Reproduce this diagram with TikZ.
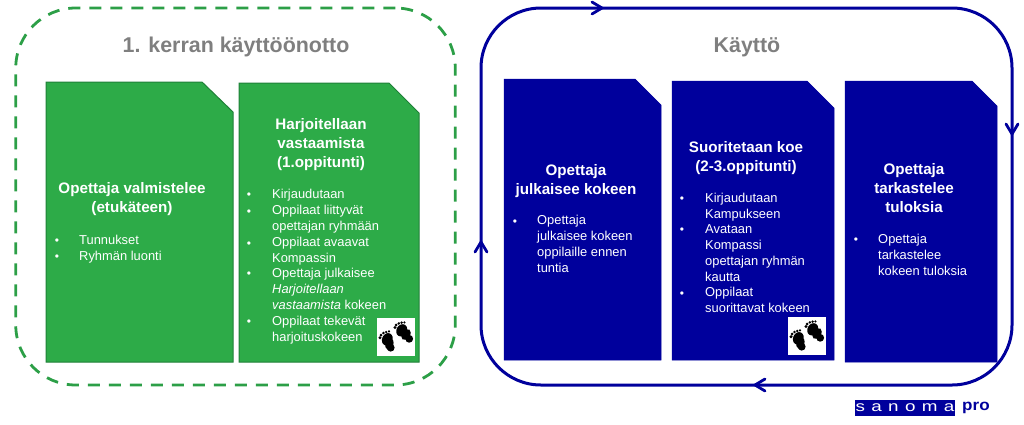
\documentclass[tikz,border=0pt]{standalone}
\usepackage{fontspec}
\setmainfont{Liberation Sans}
\usetikzlibrary{calc}
\definecolor{cgreen}{HTML}{2DAB48}
\definecolor{cgreenD}{HTML}{1F8038}
\definecolor{cdash}{HTML}{2C9F47}
\definecolor{cblue}{HTML}{00009C}
\definecolor{cgray}{HTML}{7F7F7F}
\tikzset{
  greencard/.style={fill=cgreen,draw=cgreenD,line width=1pt},
  bluecard/.style={fill=cblue,draw=cblue,line width=0.5pt},
  dashframe/.style={draw=cdash,line width=2.8pt,dash pattern=on 12pt off 9pt,rounded corners=60pt,inner sep=0pt},
  loopframe/.style={draw=cblue,line width=3pt,rounded corners=60pt,inner sep=0pt},
  chevron/.style={draw=cblue,line width=2.8pt,line cap=round,line join=miter},
  maintitle/.style={text=cgray,anchor=base,inner sep=0pt,font=\fontsize{21.4}{24}\selectfont\bfseries},
  head/.style={text=white,anchor=base,inner sep=0pt,align=center,font=\fontsize{15.2}{18.7}\selectfont\bfseries},
  item/.style={text=white,anchor=base west,inner sep=0pt,align=left,font=\fontsize{12.9}{15.7}\selectfont},
  bul/.style={text=white,anchor=base,inner sep=0pt,font=\fontsize{12}{15.7}\selectfont},
  whitesq/.style={fill=white,draw=none,minimum size=38pt,inner sep=0pt},
  pics/feet/.style={code={
    \fill[black,rotate around={-25:(-8.7,2.3)}] (-8.7,2.3) ellipse (5.2pt and 6.4pt);
    \fill[black,rotate around={-15:(-6.6,7)}] (-6.6,7) ellipse (4pt and 6pt);
    \fill[black] (-5.3,10.7) circle (3.9pt);
    \foreach \p/\r in {{-16,0.7}/1.7,{-15,-2}/1.5,{-12.6,-4}/1.4,{-9.8,-5}/1.3,{-7,-5.6}/1.2}
      \fill[black] (\p) circle (\r pt);
    \fill[black,rotate around={-30:(5.7,-6.7)}] (5.7,-6.7) ellipse (5.2pt and 6.4pt);
    \fill[black,rotate around={-35:(10,-2.5)}] (10,-2.5) ellipse (4pt and 6pt);
    \fill[black] (13.2,1.8) circle (3.9pt);
    \foreach \p/\r in {{-1,-9.5}/1.7,{0.2,-12}/1.5,{2.8,-13.6}/1.4,{5.6,-14.4}/1.3,{8.4,-14.6}/1.2}
      \fill[black] (\p) circle (\r pt);
  }}
}
\newcommand{\cardshape}[7]{\path[#7] (#1,#2) -- (#5,#2) -- (#3,#6) -- (#3,#4) -- (#1,#4) -- cycle;}
\begin{document}
\begin{tikzpicture}[x=1pt,y=-1pt]
\useasboundingbox (0,0) rectangle (1024,424);
% frames
\node[dashframe,minimum width=439.5pt,minimum height=377pt] (greenframe) at (235.5,196.5) {};
\node[loopframe,minimum width=531pt,minimum height=377pt] (loop) at (746.5,196.5) {};
\node[maintitle] (t1) at (236,52) {1. kerran käyttöönotto};
\node[maintitle] (t2) at (747,52) {Käyttö};
% arrow marks
\coordinate (atop) at (602,8);
\coordinate (aright) at (1012,134);
\coordinate (abottom) at (755,385);
\coordinate (aleft) at (481,242);
\path[chevron] (atop) ++(-10,-6) -- (atop) -- ++(-10,6);
\path[chevron] (aright) ++(-6,-10) -- (aright) -- ++(6,-10);
\path[chevron] (abottom) ++(10,-6) -- (abottom) -- ++(10,6);
\path[chevron] (aleft) ++(-6,10) -- (aleft) -- ++(6,10);
% cards
\cardshape{46}{82}{233}{362}{202}{112}{greencard}
\cardshape{239}{83}{419}{362}{389}{113}{greencard}
\cardshape{504}{79}{661}{360}{635}{105}{bluecard}
\cardshape{672}{81}{834}{360}{807}{108}{bluecard}
\cardshape{845}{81}{997}{362}{972}{106}{bluecard}
% card 1
\node[head] (h1) at (132,212) {Opettaja valmistelee\\(etukäteen)};
\node[bul] (b11) at (57,244) {•};
\node[item] (i11) at (79,244) {Tunnukset};
\node[bul] (b12) at (57,260) {•};
\node[item] (i12) at (79,260) {Ryhmän luonti};
% card 2
\node[head] (h2) at (321,167) {Harjoitellaan\\vastaamista\\(1.oppitunti)};
\node[bul] (b21) at (249,198) {•};
\node[item] (i21) at (272,198) {Kirjaudutaan};
\node[bul] (b22) at (249,215) {•};
\node[item] (i22) at (272,230) {Oppilaat liittyvät\\opettajan ryhmään};
\node[bul] (b23) at (249,247) {•};
\node[item] (i23) at (272,262) {Oppilaat avaavat\\Kompassin};
\node[bul] (b24) at (249,277) {•};
\node[item] (i24) at (272,309) {Opettaja julkaisee\\\textit{Harjoitellaan}\\\textit{vastaamista} kokeen};
\node[bul] (b25) at (249,325) {•};
\node[item] (i25) at (272,341) {Oppilaat tekevät\\harjoituskokeen};
\node[whitesq] (sq1) at (396,337) {};
\pic at (sq1.center) {feet};
% card 3
\node[head] (h3) at (576,194) {Opettaja\\julkaisee kokeen};
\node[bul] (b31) at (515,225) {•};
\node[item] (i31) at (537,272) {Opettaja\\julkaisee kokeen\\oppilaille ennen\\tuntia};
% card 4
\node[head] (h4) at (746,171) {Suoritetaan koe\\(2-3.oppitunti)};
\node[bul] (b41) at (682,202) {•};
\node[item] (i41) at (705,218) {Kirjaudutaan\\Kampukseen};
\node[bul] (b42) at (682,233) {•};
\node[item] (i42) at (705,281) {Avataan\\Kompassi\\opettajan ryhmän\\kautta};
\node[bul] (b43) at (682,297) {•};
\node[item] (i43) at (705,312) {Oppilaat\\suorittavat kokeen};
\node[whitesq] (sq2) at (807,336) {};
\pic at (sq2.center) {feet};
% card 5
\node[head] (h5) at (914,212) {Opettaja\\tarkastelee\\tuloksia};
\node[bul] (b51) at (856,243) {•};
\node[item] (i51) at (878,275) {Opettaja\\tarkastelee\\kokeen tuloksia};
% logo
\node[fill=cblue,minimum width=100pt,minimum height=16pt,inner sep=0pt,text=white,font=\fontsize{14.5}{15}\selectfont\addfontfeature{FakeStretch=1.3}] (logo) at (905,407.5) {s\hspace{6.3pt}a\hspace{6.3pt}n\hspace{6.3pt}o\hspace{6.3pt}m\hspace{6.3pt}a};
\node[anchor=west,inner sep=0pt,text=cblue,font=\fontsize{15.5}{16}\selectfont\bfseries\addfontfeature{FakeStretch=1.1}] (logopro) at (962,408) {pro};
\end{tikzpicture}
\end{document}
